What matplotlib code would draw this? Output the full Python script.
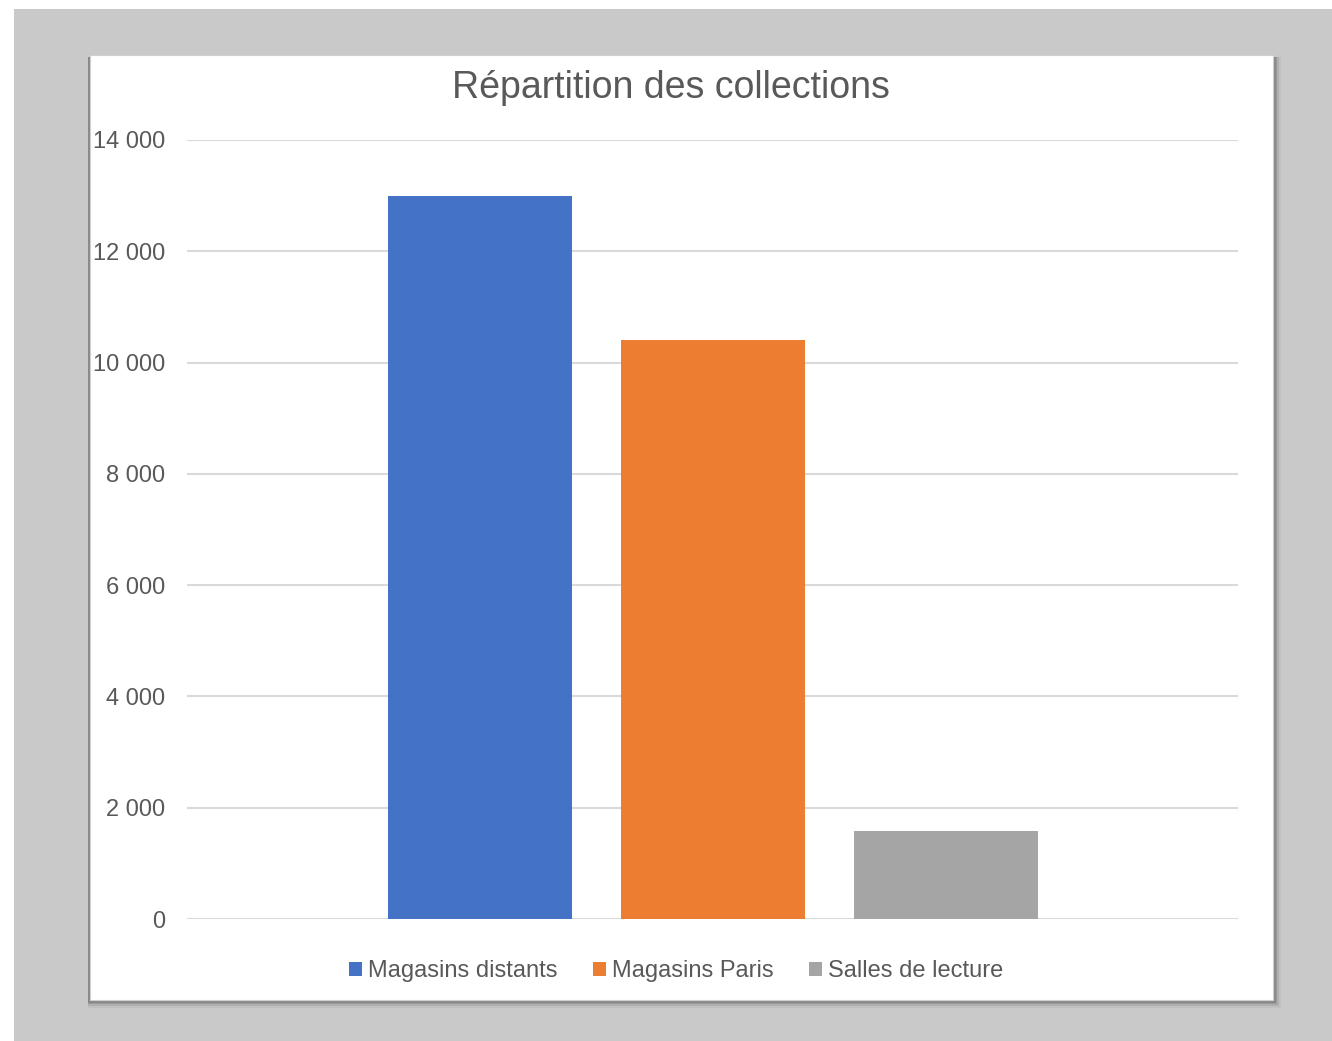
import matplotlib.pyplot as plt
from matplotlib.patches import Rectangle
from matplotlib.ticker import FuncFormatter, MultipleLocator

series = ["Magasins distants", "Magasins Paris", "Salles de lecture"]
values = [13000, 10400, 1580]
colors = ["#4472C4", "#ED7D31", "#A5A5A5"]

W, H = 1332, 1041
plt.rcParams['font.family'] = ['Liberation Sans', 'DejaVu Sans']

fig = plt.figure(figsize=(W / 100, H / 100), dpi=100)
fig.patch.set_facecolor("white")

def fx(x):
    return x / W

def fy(y):
    return 1 - y / H

# fond gris
fig.patches.append(Rectangle((fx(14), 0), 1 - fx(14), fy(9), transform=fig.transFigure,
                             facecolor="#C8C9C8", edgecolor="none", zorder=0))
# ombre du cadre
for d, c in [(7, "#bfc0bf"), (5, "#aeafae"), (3, "#999a99"), (1.5, "#888988")]:
    fig.patches.append(Rectangle((fx(88), fy(1001 + d)), fx(1274 + d) - fx(88),
                                 fy(57) - fy(1001 + d), transform=fig.transFigure,
                                 facecolor=c, edgecolor="none", zorder=0.5))
fig.patches.append(Rectangle((fx(90), fy(1000)), fx(1273) - fx(90), fy(55) - fy(1000),
                             transform=fig.transFigure, facecolor="white",
                             edgecolor="#d0d0d0", linewidth=0.8, zorder=1))

ax = fig.add_axes([fx(187), fy(919), fx(1238) - fx(187), fy(140) - fy(919)])
ax.set_facecolor("none")
ax.set_zorder(2)

x = list(range(len(series)))
bars = ax.bar(x, values, width=0.79, color=colors, zorder=3)
ax.set_xlim(-1.2575, 3.253)
ax.set_ylim(0, 14000)
ax.yaxis.set_major_locator(MultipleLocator(2000))
ax.yaxis.set_major_formatter(FuncFormatter(lambda v, p: f"{int(v):,}".replace(",", " ")))
ax.grid(axis="y", color="#D9D9D9", linewidth=1.5, zorder=0)
ax.set_xticks([])
for s in ax.spines.values():
    s.set_visible(False)
ax.tick_params(axis="y", length=0, pad=15.5, labelsize=17, labelcolor="#595959")

fig.text(fx(671), fy(88), "Répartition des collections", ha="center", va="center",
         fontsize=27, color="#595959", zorder=5)

leg = fig.legend(bars, series, loc="center", bbox_to_anchor=(fx(676), fy(971)), ncol=3,
                 frameon=False, fontsize=17, handlelength=0.55, handleheight=0.55,
                 handletextpad=0.25, columnspacing=1.5, labelcolor="#595959")

fig.savefig("out.png", dpi=100)
